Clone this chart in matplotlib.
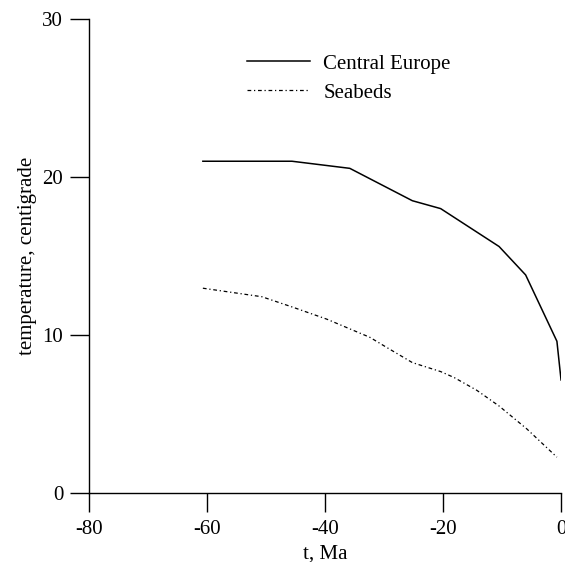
import matplotlib.pyplot as plt

# temperature history, Central Europe vs. seabeds
t_europe = [-60.7, -45.6, -35.8, -25.2, -20.4, -10.5, -6.0, -0.7, 0.0]
temp_europe = [21.0, 21.0, 20.55, 18.5, 18.0, 15.6, 13.8, 9.6, 7.15]

t_seabeds = [-60.7, -50.7, -45.4, -39.7, -32.4, -29.5, -25.2, -20.4, -18.1, -14.3, -10.5, -5.8, -0.7]
temp_seabeds = [12.96, 12.42, 11.75, 11.0, 9.85, 9.2, 8.25, 7.68, 7.3, 6.5, 5.5, 4.05, 2.26]

x_ticks = [-80, -60, -40, -20, 0]
y_ticks = [0, 10, 20, 30]

plt.rcParams['font.family'] = ['Liberation Serif', 'DejaVu Serif']
plt.rcParams['font.size'] = 15
plt.rcParams['axes.unicode_minus'] = False

fig = plt.figure(figsize=(5.65, 5.62), dpi=100)
ax = fig.add_axes([0.1575, 0.123, 0.8355, 0.843])

ax.plot(t_europe, temp_europe, color='black', lw=1.1, label='Central Europe')
ax.plot(t_seabeds, temp_seabeds, color='black', lw=0.9,
        linestyle=(0, (3, 2.2, 1, 2.2)), label='Seabeds')

ax.set_xlim(-80, 0)
ax.set_ylim(0, 30)
ax.set_xticks(x_ticks)
ax.set_yticks(y_ticks)
ax.tick_params(direction='out', length=13.5, width=1.0)
ax.tick_params(axis='x', pad=6)
ax.tick_params(axis='y', pad=5)

for side in ['top', 'right']:
    ax.spines[side].set_visible(False)
for side in ['left', 'bottom']:
    ax.spines[side].set_linewidth(1.0)

ax.set_xlabel('t, Ma', labelpad=4)
ax.set_ylabel('temperature, centigrade', labelpad=4)

ax.legend(loc='upper left', bbox_to_anchor=(0.335, 0.926), frameon=False,
          handlelength=3.03, handletextpad=0.62, borderpad=0, borderaxespad=0,
          labelspacing=0.45)

fig.savefig('out.png', dpi=100)
